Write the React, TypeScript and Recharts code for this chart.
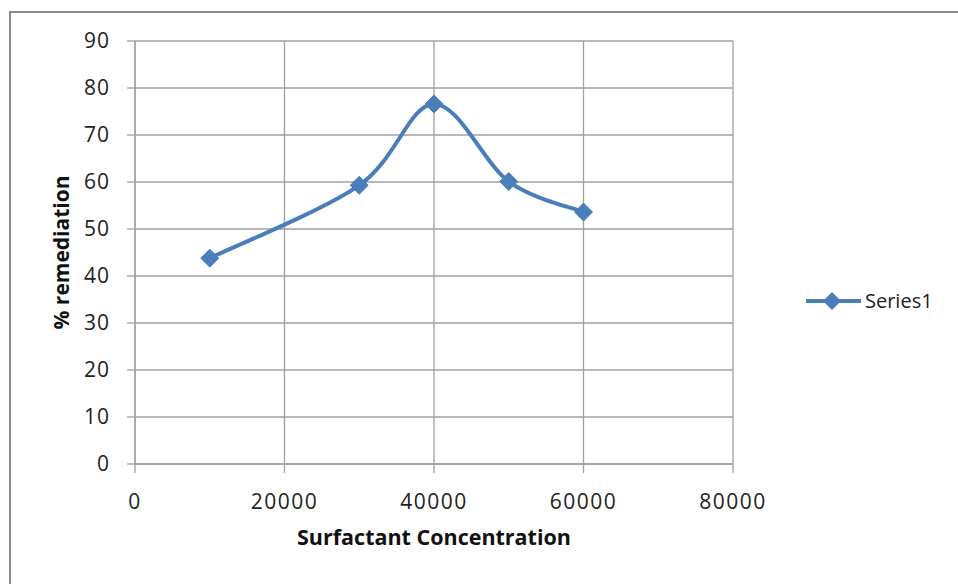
import { LineChart, Line, XAxis, YAxis, CartesianGrid, Label } from "recharts"

const concentrations = [10000, 30000, 40000, 50000, 60000]
const remediation = [43.8, 59.3, 76.6, 60.1, 53.6]
const xTicks = [0, 20000, 40000, 60000, 80000]
const yTicks = [0, 10, 20, 30, 40, 50, 60, 70, 80, 90]
const seriesName = "Series1"

const data = concentrations.map((c, i) => ({ c, v: remediation[i] }))

const BLUE = "#4a7ebb"
const GRID = "#a0a0a0"
const FONT = "'Open Sans', sans-serif"

// spreadsheet-style smoothing (catmull-rom through every point)
const smoothCurve = (context: any) => {
  let pts: number[][] = []
  return {
    areaStart() {},
    areaEnd() {},
    lineStart() { pts = [] },
    lineEnd() {
      if (!pts.length) return
      context.moveTo(pts[0][0], pts[0][1])
      for (let i = 0; i < pts.length - 1; i++) {
        const p0 = pts[i - 1] || pts[i]
        const p1 = pts[i]
        const p2 = pts[i + 1]
        const p3 = pts[i + 2] || p2
        context.bezierCurveTo(
          p1[0] + (p2[0] - p0[0]) / 6, p1[1] + (p2[1] - p0[1]) / 6,
          p2[0] - (p3[0] - p1[0]) / 6, p2[1] - (p3[1] - p1[1]) / 6,
          p2[0], p2[1]
        )
      }
    },
    point(x: number, y: number) { pts.push([+x, +y]) },
  }
}

const Diamond = (props: any) => {
  const { cx, cy } = props
  if (cx == null || cy == null) return null
  const r = 9
  return (
    <polygon
      points={`${cx},${cy - r} ${cx + r},${cy} ${cx},${cy + r} ${cx - r},${cy}`}
      fill={BLUE}
      stroke={BLUE}
      strokeWidth={1}
    />
  )
}

// legend drawn beside the chart so it does not eat plot space
const LegendBox = () => (
  <svg
    width={150}
    height={30}
    style={{ position: "absolute", left: 806, top: 288, overflow: "visible" }}
  >
    <line x1={0} y1={13} x2={55} y2={13} stroke={BLUE} strokeWidth={4} />
    <polygon points="26,4 35,13 26,22 17,13" fill={BLUE} />
    <text x={59} y={20} fontFamily={FONT} fontSize={20} fill="#222">
      {seriesName}
    </text>
  </svg>
)

export default function App() {
  return (
    <div style={{ position: "absolute", left: 0, top: 0, width: 958, height: 584, background: "#fff", overflow: "hidden" }}>
      <div
        style={{
          position: "absolute",
          left: 9,
          top: 11,
          width: 960,
          height: 600,
          border: "2px solid #8a8a8a",
          boxSizing: "border-box",
        }}
      />
      <LineChart
        width={958}
        height={584}
        data={data}
        margin={{ top: 41, right: 225, bottom: 0, left: 0 }}
        style={{ position: "absolute", left: 0, top: 0 }}
      >
        <CartesianGrid stroke={GRID} strokeWidth={1.3} />
        <XAxis
          dataKey="c"
          type="number"
          domain={[0, 80000]}
          ticks={xTicks}
          height={120}
          tickSize={9}
          tickMargin={21}
          stroke={GRID}
          strokeWidth={1.3}
          tick={{ fill: "#222", fontSize: 21, fontFamily: FONT, letterSpacing: 1.5 }}
        >
          <Label
            value="Surfactant Concentration"
            position="insideTop"
            offset={66}
            style={{ fill: "#111", fontSize: 21.5, fontWeight: 700, fontFamily: FONT }}
          />
        </XAxis>
        <YAxis
          type="number"
          domain={[0, 90]}
          ticks={yTicks}
          width={135}
          tickSize={8}
          tickMargin={17}
          stroke={GRID}
          strokeWidth={1.3}
          tick={{ fill: "#222", fontSize: 21, fontFamily: FONT, letterSpacing: 1 }}
        >
          <Label
            value="% remediation"
            angle={-90}
            position="center"
            dx={-6}
            style={{ fill: "#111", fontSize: 21, fontWeight: 700, fontFamily: FONT, textAnchor: "middle" }}
          />
        </YAxis>
        <Line
          type={smoothCurve as any}
          dataKey="v"
          name={seriesName}
          stroke={BLUE}
          strokeWidth={4}
          dot={<Diamond />}
          activeDot={false}
          isAnimationActive={false}
        />
      </LineChart>
      <LegendBox />
    </div>
  )
}
